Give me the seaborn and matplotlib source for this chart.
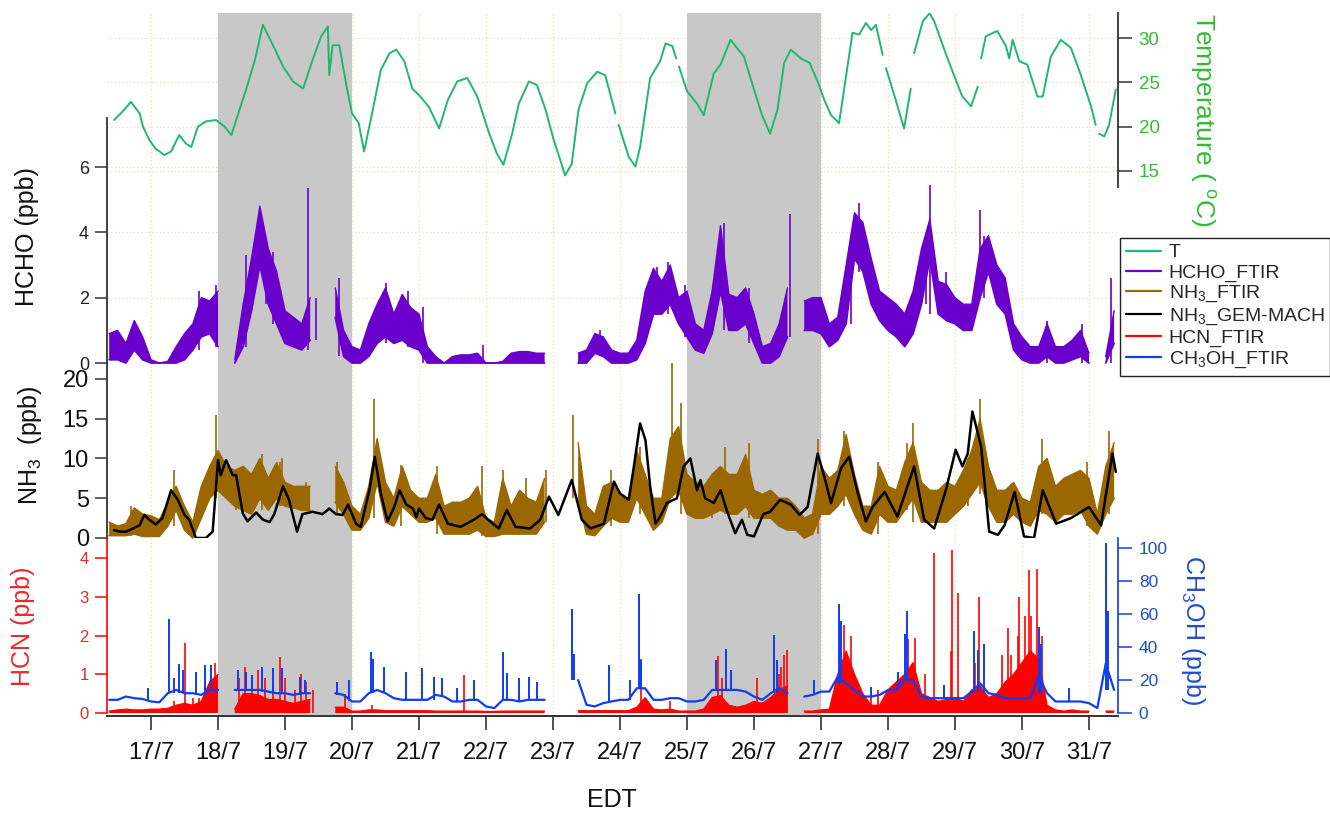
import numpy as np
import matplotlib
matplotlib.use("Agg")
import matplotlib.pyplot as plt
import seaborn as sns
from matplotlib.lines import Line2D
from matplotlib.transforms import blended_transform_factory

nan = np.nan
# ---------------- data ----------------
# Temperature, read at irregular times (day of July); nan marks short data gaps
temp_time = [16.45, 16.575, 16.7, 16.83, 16.88, 16.975, 17.07, 17.2, 17.3, 17.42, 17.52, 17.6, 17.7,
             17.82, 17.97, 18.1, 18.2, 18.32, 18.42, 18.55, 18.67, 18.82, 18.97, 19.12, 19.27, 19.41,
             19.54, 19.64, 19.66, 19.71, 19.81, 19.91, 20.0, 20.1, 20.18, 20.31, 20.43, 20.56, 20.66,
             20.78, 20.9, 21.02, 21.15, 21.3, 21.43, 21.57, 21.72, 21.87, 22.04, 22.16, 22.26, 22.39,
             22.49, 22.64, 22.76, 22.89, 23.01, 23.11, 23.18, 23.28, 23.38, 23.51, 23.66, 23.78, 23.93,
             23.95, 23.98, 24.13, 24.23, 24.3, 24.45, 24.6, 24.68, 24.78, 24.84, 24.86, 24.88, 25.0,
             25.15, 25.25, 25.4, 25.5, 25.65, 25.85, 26.0, 26.12, 26.24, 26.35, 26.45, 26.55, 26.7,
             26.83, 26.95, 27.05, 27.15, 27.27, 27.37, 27.47, 27.57, 27.67, 27.75, 27.82, 27.92,
             27.945, 27.97, 28.1, 28.24, 28.34, 28.365, 28.39, 28.52, 28.62, 28.69, 28.84, 28.99,
             29.11, 29.24, 29.34, 29.365, 29.39, 29.46, 29.63, 29.76, 29.81, 29.86, 29.96, 30.08,
             30.23, 30.31, 30.43, 30.58, 30.73, 30.88, 31.03, 31.1, 31.125, 31.15, 31.23, 31.3, 31.4]
temperature = [20.75, 21.7, 22.8, 21.5, 20.0, 18.5, 17.5, 16.8, 17.2, 19.05, 18.1, 17.7, 20.0,
               20.6, 20.75, 20.0, 19.05, 21.9, 24.2, 27.5, 31.5, 29.2, 26.8, 25.1, 24.3, 27.5,
               30.2, 31.3, 25.8, 29.2, 29.2, 24.9, 21.5, 20.4, 17.2, 21.9, 26.4, 28.3, 28.7,
               27.4, 24.3, 23.4, 22.2, 19.8, 23.0, 25.1, 25.5, 23.4, 19.4, 17.0, 15.7, 19.2,
               22.6, 25.1, 24.7, 21.9, 18.5, 16.2, 14.5, 15.8, 21.9, 24.9, 26.2, 25.8, 21.5,
               nan, 20.2, 16.6, 15.5, 17.7, 25.5, 27.4, 29.4, 29.1, 27.7, nan, 26.8, 24.0,
               22.6, 21.3, 26.0, 27.0, 29.8, 27.9, 24.2, 21.3, 19.2, 21.9, 27.2, 28.7, 27.7,
               27.2, 25.1, 23.0, 21.3, 20.4, 25.5, 30.6, 30.4, 31.7, 30.9, 31.5, 28.1,
               nan, 26.6, 23.4, 19.8, 24.3, nan, 28.3, 31.9, 32.8, 31.9, 28.7, 25.7,
               23.4, 22.3, 24.5, nan, 27.7, 30.2, 30.8, 29.1, 27.7, 29.8, 27.4, 27.0,
               23.4, 23.4, 27.9, 29.8, 28.9, 25.8, 22.3, 20.2, nan, 19.2, 18.9, 20.2, 24.2]

# NH3 GEM-MACH model, read at irregular times
gem_time = [16.45, 16.53, 16.63, 16.73, 16.83, 16.9, 16.975, 17.07, 17.17, 17.3, 17.4, 17.5, 17.57,
            17.67, 17.82, 17.92, 18.0, 18.04, 18.12, 18.22, 18.27, 18.37, 18.44, 18.57, 18.67, 18.77,
            18.84, 18.97, 19.06, 19.11, 19.18, 19.26, 19.41, 19.56, 19.66, 19.76, 19.86, 19.94, 20.06,
            20.13, 20.26, 20.34, 20.43, 20.53, 20.63, 20.71, 20.81, 20.91, 20.96, 21.0, 21.1, 21.2,
            21.3, 21.43, 21.62, 21.82, 21.94, 22.06, 22.19, 22.31, 22.44, 22.66, 22.81, 22.94, 23.08,
            23.28, 23.43, 23.56, 23.76, 23.91, 24.0, 24.13, 24.2, 24.3, 24.38, 24.45, 24.53, 24.6,
            24.7, 24.85, 24.95, 25.05, 25.15, 25.2, 25.27, 25.4, 25.5, 25.6, 25.72, 25.82, 25.9,
            26.0, 26.14, 26.24, 26.39, 26.55, 26.68, 26.8, 26.95, 27.05, 27.15, 27.3, 27.42, 27.55,
            27.67, 27.77, 27.95, 28.14, 28.39, 28.54, 28.69, 28.87, 29.01, 29.11, 29.19, 29.26,
            29.39, 29.51, 29.64, 29.74, 29.89, 30.03, 30.18, 30.31, 30.51, 30.73, 31.0, 31.18,
            31.35, 31.4]
nh3_gem_mach = [1.0, 0.8, 0.8, 1.2, 1.6, 2.9, 2.3, 1.7, 2.5, 6.0, 4.8, 2.9, 2.3,
                0.0, 0.0, 0.8, 9.8, 7.9, 9.8, 7.9, 7.9, 3.1, 2.1, 3.2, 2.3, 2.0,
                3.0, 6.5, 4.8, 3.1, 0.8, 3.0, 3.3, 3.0, 3.7, 3.0, 2.9, 4.2, 1.8,
                1.4, 6.0, 10.2, 5.6, 2.1, 3.9, 6.0, 4.2, 3.7, 2.6, 3.7, 2.5, 2.3,
                4.2, 1.8, 1.4, 2.3, 3.0, 2.1, 1.2, 3.5, 1.4, 1.2, 2.3, 5.2, 2.9,
                7.3, 2.3, 1.2, 1.8, 7.1, 5.6, 4.8, 8.6, 14.4, 12.3, 6.5, 1.8, 2.7,
                4.4, 5.0, 9.0, 10.0, 6.0, 7.3, 5.0, 4.4, 6.0, 3.3, 0.6, 2.3, 0.4,
                0.2, 3.0, 3.3, 4.8, 4.2, 2.9, 3.9, 10.6, 7.7, 4.4, 8.8, 10.2, 5.6,
                2.1, 3.9, 5.8, 2.7, 9.0, 2.3, 1.2, 6.2, 11.1, 9.0, 10.6, 15.9,
                11.5, 0.8, 0.4, 1.6, 5.8, 0.2, 0.0, 6.0, 1.8, 2.5, 3.9, 1.6,
                10.6, 8.3]

# FTIR series: 3-hourly envelope samples starting 16/7 09:00 EDT
T0, STEP = 16.375, 0.125

hcho_low = [
    0.1, 0.1, 0.0, 0.4, 0.1,
    0, 0, 0, 0, 0.1, 0.4, 0.8, 0.9,
    0.5, nan, 0, 0.5, 1.6, 3.0, 1.8, 1.2,
    0.6, 0.5, 0.4, 0.7, nan, nan, 1.4, 0.2,
    0, 0, 0.2, 0.6, 0.8, 0.6, 0.7, 0.5,
    0.4, 0, 0, 0, 0, 0, 0, 0,
    0, 0, 0, 0, 0, 0, 0, 0,
    nan, nan, nan, 0, 0, 0.3, 0.2, 0,
    0, 0, 0.1, 0.6, 1.5, 1.5, 1.8, 1.2,
    0.8, 0.4, 0.3, 0.9, 2.2, 1.0, 1.0, 1.2,
    0.6, 0, 0, 0.2, 0.8, nan, 1.0, 1.0,
    0.9, 0.5, 0.7, 1.2, 3.2, 2.8, 1.8, 1.3,
    1.0, 0.8, 0.5, 0.9, 1.8, 3.2, 1.5, 1.3,
    1.2, 1.0, 1.0, 2.0, 2.8, 1.8, 1.5, 0.4,
    0.1, 0, 0, 0.2, 0, 0, 0.1, 0.2,
    0, nan, 0, 0.6,
]
hcho_high = [
    0.9, 1.0, 0.6, 1.3, 0.8,
    0.1, 0, 0.05, 0.5, 0.9, 1.2, 2.0, 1.9,
    2.2, nan, 0.1, 1.8, 3.2, 4.8, 3.5, 2.8,
    1.6, 1.4, 1.2, 2.0, nan, nan, 2.3, 1.0,
    0.5, 0.4, 1.2, 1.8, 2.3, 1.5, 2.1, 1.7,
    1.5, 0.5, 0.2, 0.0, 0.2, 0.25, 0.25, 0.3,
    0, 0, 0.05, 0.3, 0.35, 0.35, 0.3, 0.3,
    nan, nan, nan, 0.3, 0.4, 0.9, 0.8, 0.4,
    0.3, 0.3, 0.7, 2.2, 2.9, 2.5, 3.0, 2.0,
    2.2, 1.2, 1.0, 2.2, 4.2, 2.1, 2.0, 2.3,
    1.5, 0.5, 0.6, 1.2, 2.3, nan, 1.9, 2.0,
    2.0, 1.2, 1.4, 3.0, 4.6, 4.3, 3.2, 2.2,
    2.0, 1.8, 1.5, 2.2, 3.5, 4.4, 2.5, 2.4,
    2.0, 1.8, 1.8, 3.5, 3.9, 3.0, 2.6, 1.2,
    0.8, 0.5, 0.5, 1.2, 0.5, 0.5, 0.7, 1.0,
    0.3, nan, 0.2, 1.6,
]
hcho_spike_t = [17.72, 17.97, 18.42, 18.72, 18.82, 19.34, 19.46, 19.81, 20.51, 20.83, 21.06, 21.95,
                23.7, 24.55, 24.71, 24.97, 25.55, 25.92, 26.54, 27.45, 27.56, 28.57, 28.63, 28.87,
                29.38, 29.44, 30.38, 30.9, 31.33]
hcho_spike_v = [2.2, 2.4, 3.3, 3.5, 3.4, 5.35, 2.0, 2.6, 2.45, 2.2, 1.7, 0.55,
                1.0, 2.95, 3.1, 2.4, 4.3, 2.3, 4.55, 3.6, 4.9, 3.8, 5.45, 2.8,
                4.67, 3.9, 1.3, 1.2, 2.6]

nh3_low = [
    0.3, 0.3, 0.3, 0.5, 0.2,
    0.2, 0.2, 1.5, 3.5, 1.0, 0, 2.5, 5.0,
    6.0, 5.0, 4.0, 3.5, 3.0, 5.0, 3.5, 5.0,
    4.0, 3.8, 3.5, 3.5, nan, nan, 4.5, 3.0,
    1.0, 1.0, 2.5, 7.0, 2.0, 1.5, 4.0, 3.0,
    2.0, 2.0, 2.5, 0.5, 0.5, 0.5, 0.5, 1.0,
    0.2, 0.2, 0.5, 0.5, 0.5, 0.5, 0.5, 2.0,
    nan, nan, nan, 5.0, 0.5, 0.3, 1.5, 2.5,
    2.0, 2.0, 5.0, 3.0, 1.0, 2.0, 5.0, 6.0,
    3.0, 2.5, 2.5, 3.0, 3.5, 3.0, 3.0, 4.0,
    2.5, 2.5, 2.5, 1.5, 1.0, 1.0, 0, 0.5,
    3.0, 3.0, 4.0, 5.5, 3.0, 1.0, 0.5, 3.0,
    2.0, 2.0, 3.5, 5.0, 2.0, 2.0, 2.0, 2.0,
    3.0, 4.0, 5.5, 7.0, 4.0, 2.0, 2.0, 3.0,
    2.0, 1.5, 3.5, 3.0, 2.0, 3.0, 3.0, 3.5,
    1.5, 0.5, 3.0, 5.0,
]
nh3_high = [
    2.0, 1.5, 1.8, 3.8, 3.0,
    2.8, 2.3, 4.5, 6.5, 4.0, 2.0, 6.5, 9.0,
    11.0, 9.0, 8.5, 9.0, 8.0, 10.0, 7.5, 9.5,
    7.0, 6.5, 6.5, 6.5, nan, nan, 9.0, 7.0,
    4.0, 3.0, 6.5, 12.5, 7.0, 5.0, 9.0, 6.0,
    5.0, 5.0, 8.0, 4.0, 4.5, 4.5, 5.0, 6.5,
    2.5, 2.0, 7.5, 4.0, 6.0, 5.0, 4.5, 7.5,
    nan, nan, nan, 12.0, 4.0, 3.0, 6.5, 7.0,
    5.5, 5.0, 11.0, 8.0, 5.0, 5.0, 12.5, 14.0,
    8.0, 7.0, 6.5, 8.0, 9.0, 8.0, 8.0, 10.5,
    6.0, 5.5, 6.0, 5.0, 5.0, 4.0, 2.5, 3.0,
    9.0, 7.5, 8.5, 13.0, 8.0, 4.0, 4.0, 9.0,
    6.5, 6.0, 9.5, 12.0, 7.0, 6.0, 6.0, 7.0,
    6.5, 8.5, 11.0, 15.0, 9.0, 6.0, 6.0, 7.0,
    5.0, 4.5, 9.0, 10.0, 6.5, 7.5, 8.0, 8.5,
    7.5, 3.0, 9.0, 12.0,
]
nh3_spike_t = [16.7, 17.35, 17.97, 18.27, 18.65, 18.92, 18.95, 19.31, 19.78, 20.33, 20.73, 21.27,
               21.94, 22.25, 22.59, 22.9, 23.3, 23.86, 24.3, 24.78, 24.91, 25.37, 25.57, 25.93,
               26.95, 27.35, 27.85, 28.29, 28.38, 28.89, 29.2, 29.37, 30.3, 30.97, 31.3]
nh3_spike_v = [4.0, 8.6, 15.5, 8.0, 10.5, 9.5, 10.0, 7.0, 9.5, 17.5, 9.2, 9.0,
               9.0, 8.5, 7.5, 8.5, 15.5, 8.5, 11.5, 22.0, 17.0, 8.0, 11.5, 12.0,
               12.5, 13.5, 9.5, 12.0, 14.4, 7.5, 10.0, 17.5, 12.5, 9.5, 13.5]

hcn_level = [
    0.05, 0.08, 0.1, 0.08, 0.08,
    0.1, 0.1, 0.12, 0.2, 0.25, 0.2, 0.3, 0.8,
    1.0, nan, 0.1, 0.5, 0.5, 0.45, 0.35, 0.35,
    0.3, 0.25, 0.3, 0.35, nan, nan, 0.15, 0.15,
    0.05, 0.05, 0.08, 0.08, 0.06, 0.06, 0.06, 0.06,
    0.06, 0.06, 0.05, 0.05, 0.05, 0.05, 0.05, 0.05,
    0.04, 0.04, 0.05, 0.05, 0.05, 0.05, 0.05, 0.05,
    nan, nan, nan, 0.06, 0.06, 0.06, 0.06, 0.06,
    0.06, 0.06, 0.15, 0.4, 0.1, 0.08, 0.1, 0.05,
    0.05, 0.05, 0.1, 0.4, 0.45, 0.2, 0.15, 0.2,
    0.3, 0.25, 0.4, 0.6, 0.7, nan, 0.05, 0.05,
    0.08, 0.1, 1.0, 1.6, 1.0, 0.5, 0.2, 0.2,
    0.6, 0.8, 1.0, 1.3, 0.5, 0.4, 0.3, 0.35,
    0.4, 0.3, 0.6, 0.7, 0.4, 0.5, 0.8, 1.0,
    1.3, 1.6, 1.4, 0.2, 0.08, 0.05, 0.08, 0.05,
    0.05, nan, 0.05, 0.05,
]
hcn_spike_t = [17.35, 17.5, 17.62, 17.72, 17.95, 18.32, 18.4, 18.5, 18.59, 18.7, 18.82, 18.92,
               19.0, 19.15, 19.24, 19.31, 19.42, 19.9, 20.3, 21.67, 24.32, 24.75, 25.47, 25.52,
               26.05, 26.37, 26.4, 26.45, 26.5, 27.35, 27.45, 27.75, 27.85, 28.3, 28.4, 28.55,
               28.69, 28.94, 28.96, 29.04, 29.3, 29.36, 29.7, 29.79, 29.84, 29.94, 29.96, 30.04,
               30.11, 30.14, 30.23, 30.3]
hcn_spike_v = [0.3, 1.8, 0.4, 0.4, 1.28, 0.9, 1.2, 0.8, 1.1, 0.9, 0.8, 1.45,
               0.9, 0.6, 1.0, 0.8, 0.6, 0.5, 0.2, 0.98, 1.4, 0.3, 1.47, 0.9,
               0.9, 1.0, 1.2, 1.5, 1.62, 2.27, 2.0, 0.5, 0.6, 1.9, 1.95, 1.0,
               4.13, 1.6, 4.2, 3.1, 1.3, 3.0, 1.5, 2.2, 1.5, 2.0, 3.0, 2.5,
               3.7, 2.5, 3.73, 2.0]

ch3oh_base = [
    8, 8, 10, 9, 8.5,
    7, 6.5, 12, 14, 12, 12, 11, 14,
    14, nan, 14, 14, 14, 14, 13, 12,
    12, 11, 12, 12, nan, nan, 12, 11,
    7, 7, 12, 14, 12, 9, 8, 8,
    8, 8, 11, 10, 7, 7, 8, 8,
    4, 3, 8, 8, 7, 8, 8, 8,
    nan, nan, nan, 20, 5, 4, 6, 7,
    8, 8, 15, 15, 8, 8, 9, 9,
    7, 7, 8, 14, 14, 14, 14, 13,
    10, 8, 12, 15, 12, nan, 10, 11,
    13, 13, 22, 18, 14, 10, 10, 11,
    14, 14, 20, 20, 10, 9, 9, 9,
    9, 9, 13, 18, 12, 11, 9, 9,
    9, 9, 22, 12, 7, 7, 7, 7,
    6, 3, 30, 14,
]
ch3oh_spike_t = [16.95, 17.27, 17.34, 17.42, 17.47, 17.67, 17.8, 17.9, 18.3, 18.42, 18.5, 18.65,
                 18.82, 18.95, 19.22, 19.3, 19.78, 19.95, 20.28, 20.32, 20.47, 20.8, 21.05, 21.22,
                 21.35, 21.57, 21.82, 22.26, 22.31, 22.49, 22.64, 22.76, 23.28, 23.31, 23.84, 24.15,
                 24.28, 24.31, 25.43, 25.58, 25.65, 26.3, 26.35, 26.9, 27.27, 27.3, 27.75, 28.15,
                 28.25, 28.29, 28.84, 29.29, 29.34, 29.44, 30.25, 30.28, 30.7, 31.26, 31.29]
ch3oh_spike_v = [15, 57, 21, 30, 26, 25, 29, 29, 26, 25, 23, 28,
                 27, 27, 22, 20, 19, 20, 37, 33, 28, 25, 27, 22,
                 21, 15, 20, 37, 24, 21, 22, 19, 63, 36, 29, 20,
                 72, 32, 32, 39, 26, 47, 32, 20, 66, 56, 16, 25,
                 48, 62, 17, 50, 38, 42, 52, 42, 15, 103, 62]

days = list(range(17, 32))
day_labels = [f"{d}/7" for d in days]
shaded_periods = [(18, 20), (25, 27)]
temp_ticks = [15, 20, 25, 30]
hcho_ticks = [0, 2, 4, 6]
nh3_ticks = [0, 5, 10, 15, 20]
hcn_ticks = [0, 1, 2, 3, 4]
ch3oh_ticks = [0, 20, 40, 60, 80, 100]

# ---------------- styling ----------------
sns.set_theme(style="white")
plt.rcParams['font.family'] = ['Liberation Sans', 'DejaVu Sans']
plt.rcParams['mathtext.fontset'] = 'custom'
plt.rcParams['mathtext.rm'] = 'Liberation Sans'
plt.rcParams['mathtext.it'] = 'Liberation Sans:italic'
plt.rcParams['mathtext.bf'] = 'Liberation Sans:bold'
plt.rcParams['mathtext.default'] = 'regular'

TCOL, TTXT = '#1fb870', '#33bb33'
HCOL = '#6a00cc'
NCOL = '#9a6700'
RED, RTXT = '#ff0000', '#e62a2a'
BLUE, BTXT = '#0f3cf5', '#1f4ccc'
GRID = '#e6dfb3'
SHADE = '#c8c8c8'
SPINE = '#333333'

t = T0 + STEP * np.arange(len(hcho_low))

W, H = 1330, 815
fig = plt.figure(figsize=(W / 100, H / 100), dpi=100)


def box(x0, y0, x1, y1):
    return [x0 / W, 1 - y1 / H, (x1 - x0) / W, (y1 - y0) / H]


XL, XR = 107, 1118
XLIM = (16.343, 31.433)


def clean(ax):
    ax.patch.set_visible(False)
    for s in ax.spines.values():
        s.set_visible(False)
    ax.set_xlim(XLIM)
    ax.tick_params(axis='x', bottom=False, labelbottom=False, top=False)
    ax.grid(False)


bg = fig.add_axes(box(XL, 13, XR, 716))
bg.set_xlim(XLIM)
bg.set_ylim(0, 1)
bg.axis('off')

axH = fig.add_axes(box(XL, 118, XR, 363))
axN = fig.add_axes(box(XL, 363, XR, 538))
axC = fig.add_axes(box(XL, 538, XR, 716))
axM = axC.twinx()
axT = fig.add_axes(box(XL, 13, XR, 187))
for ax in (axH, axN, axC, axM, axT):
    clean(ax)

axH.set_ylim(0, 7.5)
axN.set_ylim(0, 22.0)
axC.set_ylim(-0.077, 4.52)
axM.set_ylim(-1.8, 106.1)
axT.set_ylim(13.19, 32.83)

# background: grid + shading
for d in days:
    bg.axvline(d, color=GRID, lw=0.9, ls=(0, (1, 2)), zorder=1)
for ax_ref, ticks in ((axT, temp_ticks), (axH, hcho_ticks[1:])):
    tr = blended_transform_factory(bg.transAxes, ax_ref.transData)
    for v in ticks:
        bg.add_line(Line2D([0, 1], [v, v], transform=tr, color=GRID, lw=0.9, ls=(0, (1, 2)), zorder=1))
for a, b in shaded_periods:
    bg.axvspan(a, b, color=SHADE, lw=0, zorder=2)


def spike_base(ts, series):
    s = np.asarray(series, dtype=float)
    idx = (np.asarray(ts) - T0) / STEP
    i0 = np.clip(np.floor(idx).astype(int), 0, len(s) - 1)
    i1 = np.clip(i0 + 1, 0, len(s) - 1)
    return np.fmin(s[i0], s[i1])


# Temperature (gaps kept as nan)
axT.plot(temp_time, temperature, color=TCOL, lw=1.4)

# HCHO
axH.fill_between(t, hcho_low, hcho_high, color=HCOL, lw=0, clip_on=False)
axH.plot(t, hcho_low, color=HCOL, lw=1.3, clip_on=False)
axH.plot(t, hcho_high, color=HCOL, lw=1.0, clip_on=False)
axH.vlines(hcho_spike_t, spike_base(hcho_spike_t, hcho_low), hcho_spike_v, color=HCOL, lw=1.2)

# NH3
axN.fill_between(t, nh3_low, nh3_high, color=NCOL, lw=0, clip_on=False)
axN.plot(t, nh3_low, color=NCOL, lw=1.2, clip_on=False)
axN.plot(t, nh3_high, color=NCOL, lw=1.0, clip_on=False)
axN.vlines(nh3_spike_t, spike_base(nh3_spike_t, nh3_low), nh3_spike_v, color=NCOL, lw=1.2)
sns.lineplot(x=gem_time, y=nh3_gem_mach, ax=axN, color='black', lw=1.8, estimator=None, sort=False,
             legend=False)

# HCN
axC.fill_between(t, 0, hcn_level, color=RED, lw=0)
axC.plot(t, hcn_level, color=RED, lw=0.9)
axC.vlines(hcn_spike_t, 0, hcn_spike_v, color=RED, lw=1.2)

# CH3OH
axM.plot(t, ch3oh_base, color=BLUE, lw=1.6)
axM.vlines(ch3oh_spike_t, spike_base(ch3oh_spike_t, ch3oh_base), ch3oh_spike_v, color=BLUE, lw=1.4)

# ---------------- axes decorations ----------------
axH.spines['left'].set_visible(True)
axH.spines['left'].set_color(SPINE)
axH.spines['left'].set_linewidth(1.3)
axH.set_yticks(hcho_ticks)
axH.tick_params(axis='y', left=True, right=False, direction='out', length=9, width=1.1,
                color=SPINE, labelsize=13, pad=4, labelcolor='#222222')

axN.spines['left'].set_visible(True)
axN.spines['left'].set_color(SPINE)
axN.spines['left'].set_linewidth(1.3)
axN.set_yticks(nh3_ticks)
axN.tick_params(axis='y', left=True, right=False, direction='out', length=9, width=1.1,
                color=SPINE, labelsize=17, pad=4, labelcolor='#111111')

axC.spines['left'].set_visible(True)
axC.spines['left'].set_color(RED)
axC.spines['left'].set_linewidth(1.2)
axC.spines['left'].set_bounds(0, 4.52)
axC.set_yticks(hcn_ticks)
axC.tick_params(axis='y', left=True, right=False, direction='out', length=9, width=1.1,
                color=RED, labelsize=12, pad=4, labelcolor=RTXT)
axC.spines['bottom'].set_visible(True)
axC.spines['bottom'].set_color(SPINE)
axC.spines['bottom'].set_linewidth(1.4)
axC.set_xticks(days)
axC.set_xticklabels(day_labels)
axC.tick_params(axis='x', bottom=True, labelbottom=True, direction='out', length=10, width=1.2,
                color=SPINE, labelsize=17, pad=9, labelcolor='#111111')

axM.spines['right'].set_visible(True)
axM.spines['right'].set_color(BLUE)
axM.spines['right'].set_linewidth(1.2)
axM.spines['right'].set_bounds(0, 106.1)
axM.set_yticks(ch3oh_ticks)
axM.tick_params(axis='y', right=True, left=False, labelright=True, labelleft=False, direction='out',
                length=10, width=1.1, color=BLUE, labelsize=12.5, pad=5, labelcolor=BTXT)

axT.spines['right'].set_visible(True)
axT.spines['right'].set_color(SPINE)
axT.spines['right'].set_linewidth(1.3)
axT.yaxis.tick_right()
axT.set_yticks(temp_ticks)
axT.tick_params(axis='y', right=True, left=False, labelright=True, labelleft=False, direction='out',
                length=10, width=1.1, color=SPINE, labelsize=13.5, pad=5, labelcolor=TTXT)
for ax in (axH, axN, axT, axC, axM):
    ax.set_ylabel('')
    ax.set_xlabel('')

# labels
fig.text(27 / W, 1 - 237 / H, 'HCHO (ppb)', rotation=90, ha='center', va='center', fontsize=18, color='#111111')
fig.text(30 / W, 1 - 445 / H, 'NH$_3$  (ppb)', rotation=90, ha='center', va='center', fontsize=18, color='#111111')
fig.text(23 / W, 1 - 626 / H, 'HCN (ppb)', rotation=90, ha='center', va='center', fontsize=18, color=RTXT)
fig.text(1202 / W, 1 - 120 / H, 'Temperature ( $^{o}$C)', rotation=270, ha='center', va='center',
         fontsize=19, color=TTXT)
fig.text(1193 / W, 1 - 630 / H, 'CH$_3$OH (ppb)', rotation=270, ha='center', va='center', fontsize=18, color=BTXT)
fig.text(612 / W, 1 - 800 / H, 'EDT', ha='center', va='center', fontsize=18, color='#111111')

# legend
handles = [Line2D([], [], color=c, lw=1.6) for c in (TCOL, HCOL, NCOL, 'black', RED, BLUE)]
labels = ['T', 'HCHO_FTIR', 'NH$_3$_FTIR', 'NH$_3$_GEM-MACH', 'HCN_FTIR', 'CH$_3$OH_FTIR']
leg = fig.legend(handles, labels, loc='upper left', bbox_to_anchor=(1120 / W, 1 - 238 / H),
                 frameon=True, fancybox=False, edgecolor='#222222', framealpha=1, fontsize=14,
                 handlelength=1.8, handletextpad=0.4, labelspacing=0.12, borderpad=0.3,
                 borderaxespad=0)
leg.get_frame().set_linewidth(1.0)

fig.savefig('out.png', dpi=100)
